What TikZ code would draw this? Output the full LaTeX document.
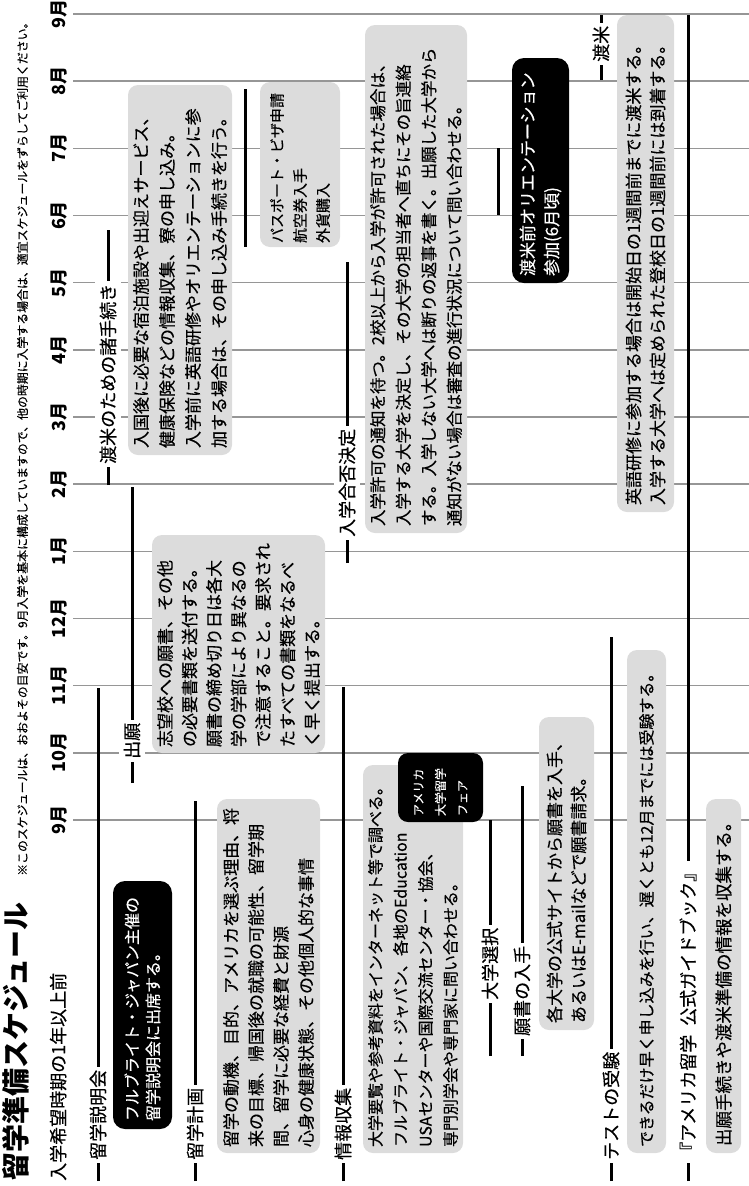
\documentclass[tikz,border=0pt]{standalone}
\usepackage{fontspec}
\setmainfont{Noto Sans CJK JP}[UprightFeatures={FakeBold=0.35}]
\definecolor{boxgray}{RGB}{220,220,220}
\definecolor{gridgray}{RGB}{150,150,150}
\tikzset{
  monthline/.style={draw=gridgray, line width=1.4pt},
  monthlab/.style={rotate=90, font=\bfseries\fontsize{18}{18}\selectfont, inner sep=0pt},
  gbox/.style={fill=boxgray, rounded corners=10pt, rotate=90, inner ysep=0pt, align=left},
  bbox/.style={fill=black, text=white, rounded corners=12pt, rotate=90, inner ysep=0pt, align=left},
  rowlab/.style={rotate=90, anchor=west, fill=white, inner xsep=3pt, inner ysep=5pt, font=\fontsize{18}{18}\selectfont},
  bar/.style={line width=3pt},
}
\begin{document}
\begin{tikzpicture}[x=1pt,y=-1pt]
\useasboundingbox (0,0) rectangle (749,1186);

% month grid
\foreach \m [count=\i from 0] in {9,8,7,6,5,4,3,2,1,12,11,10,9} {
  \pgfmathsetmacro\yy{14+\i*67.17}
  \draw[monthline] (73,\yy) -- (749,\yy);
  \node[monthlab] (m\i) at (59,\yy) {\m 月};
}

% title
\node[rotate=90, anchor=base west, inner sep=0pt, font=\bfseries\fontsize{28}{28}\selectfont] (title) at (27,1181) {留学準備スケジュール};
\node[rotate=90, anchor=base west, inner sep=0pt, font=\fontsize{11.9}{12}\selectfont] (note) at (27,876) {※このスケジュールは、おおよその目安です。9月入学を基本に構成していますので、他の時期に入学する場合は、適宜スケジュールをずらしてご利用ください。};
\node[rotate=90, anchor=base west, inner sep=0pt, font=\fontsize{18}{18}\selectfont] (sub) at (65,1181) {入学希望時期の1年以上前};

% boxes
\node[bbox, inner xsep=8pt, text width=232pt, minimum height=59pt, font=\fontsize{16}{21}\selectfont] (b1) at (142.5,1005) {フルブライト・ジャパン主催の\\留学説明会に出席する。};
\node[gbox, inner xsep=6pt, text width=342pt, minimum height=103pt, font=\fontsize{17}{25}\selectfont] (b2) at (268.5,976) {留学の動機、目的、アメリカを選ぶ理由、将\\来の目標、帰国後の就職の可能性、留学期\\間、留学に必要な経費と財源\\心身の健康状態、その他個人的な事情};
\node[gbox, inner xsep=6pt, text width=376pt, minimum height=100pt, font=\fontsize{16}{25}\selectfont] (b3) at (413,959) {大学要覧や参考資料をインターネット等で調べる。\\フルブライト・ジャパン、各地のEducation\\USAセンターや国際交流センター・協会、\\専門別学会や専門家に問い合わせる。};
\node[bbox, rounded corners=10pt, inner xsep=6pt, text width=57pt, minimum height=85pt, font=\fontsize{12}{22}\selectfont] (b3b) at (440.5,787.5) {アメリカ\\大学留学\\フェア};
\node[gbox, inner xsep=7pt, text width=299pt, minimum height=55pt, font=\fontsize{17}{24}\selectfont] (b5) at (566.5,873.5) {各大学の公式サイトから願書を入手、\\あるいはE-mailなどで願書請求。};
\node[gbox, inner xsep=6pt, text width=491pt, minimum height=39pt, font=\fontsize{16}{24}\selectfont] (b6) at (646.5,901.5) {できるだけ早く申し込みを行い、遅くとも12月までには受験する。};
\node[gbox, inner xsep=7pt, text width=340pt, minimum height=35pt, font=\fontsize{17.5}{24}\selectfont] (b7) at (723.5,976) {出願手続きや渡米準備の情報を収集する。};
\node[gbox, inner xsep=6pt, text width=206pt, minimum height=173pt, font=\fontsize{17}{24.5}\selectfont] (b8) at (238.5,644) {志望校への願書、その他\\の必要書類を送付する。\\願書の締め切り日は各大\\学の学部により異なるの\\で注意すること。要求され\\たすべての書類をなるべ\\く早く提出する。};
\node[gbox, inner xsep=7pt, text width=356pt, minimum height=104pt, font=\fontsize{17}{26}\selectfont] (b9) at (180,270) {入国後に必要な宿泊施設や出迎えサービス、\\健康保険などの情報収集、寮の申し込み。\\入学前に英語研修やオリエンテーションに参\\加する場合は、その申し込み手続きを行う。};
\node[gbox, inner xsep=4pt, text width=157pt, minimum height=80pt, font=\fontsize{15}{23}\selectfont] (b10) at (300,164.5) {パスポート・ビザ申請\\航空券入手\\外貨購入};
\node[gbox, inner xsep=7pt, text width=494pt, minimum height=102pt, font=\fontsize{16.5}{25.5}\selectfont] (b11) at (416,279) {入学許可の通知を待つ。2校以上から入学が許可された場合は、\\入学する大学を決定し、その大学の担当者へ直ちにその旨連絡\\する。入学しない大学へは断りの返事を書く。出願した大学から\\通知がない場合は審査の進行状況について問い合わせる。};
\node[bbox, inner xsep=7pt, text width=211pt, minimum height=57pt, font=\fontsize{17}{24}\selectfont] (b12) at (540.5,170.5) {渡米前オリエンテーション\\参加(6月頃)};
\node[gbox, inner xsep=7pt, text width=483pt, minimum height=57pt, font=\fontsize{17}{24}\selectfont] (b13) at (645.5,263.5) {英語研修に参加する場合は開始日の1週間前までに渡米する。\\入学する大学へは定められた登校日の1週間前には到着する。};

% rows
\coordinate (a0) at (98,1181); \coordinate (a1) at (98,1163); \coordinate (a2) at (98,688);
\node[rowlab] (la) at (a1) {留学説明会};
\draw[bar] (a0) -- (la.west); \draw[bar] (la.east) -- (a2);

\coordinate (c0) at (195,1181); \coordinate (c1) at (195,1163); \coordinate (c2) at (195,801);
\node[rowlab] (lb) at (c1) {留学計画};
\draw[bar] (c0) -- (lb.west); \draw[bar] (lb.east) -- (c2);

\coordinate (d0) at (343,1181); \coordinate (d1) at (343,1163); \coordinate (d2) at (343,687);
\node[rowlab] (lc) at (d1) {情報収集};
\draw[bar] (d0) -- (lc.west); \draw[bar] (lc.east) -- (d2);

\coordinate (e0) at (490,1056); \coordinate (e1) at (490,1003); \coordinate (e2) at (490,820);
\node[rowlab] (ld) at (e1) {大学選択};
\draw[bar] (e0) -- (ld.west); \draw[bar] (ld.east) -- (e2);

\coordinate (f0) at (522,1056); \coordinate (f1) at (522,1039); \coordinate (f2) at (522,786);
\node[rowlab] (le) at (f1) {願書の入手};
\draw[bar] (f0) -- (le.west); \draw[bar] (le.east) -- (f2);

\coordinate (g0) at (611,1181); \coordinate (g1) at (611,1163); \coordinate (g2) at (611,637);
\node[rowlab] (lf) at (g1) {テストの受験};
\draw[bar] (g0) -- (lf.west); \draw[bar] (lf.east) -- (g2);

\coordinate (h0) at (688,1181); \coordinate (h1) at (688,1163); \coordinate (h2) at (688,15);
\node[rowlab] (lg) at (h1) {『アメリカ留学\hspace{0.5em}公式ガイドブック』};
\draw[bar] (h0) -- (lg.west); \draw[bar] (lg.east) -- (h2);

\coordinate (i0) at (132,783); \coordinate (i1) at (132,762); \coordinate (i2) at (132,487);
\node[rowlab] (lh) at (i1) {出願};
\draw[bar] (i0) -- (lh.west); \draw[bar] (lh.east) -- (i2);

\coordinate (j0) at (108,485); \coordinate (j1) at (108,467); \coordinate (j2) at (108,230);
\node[rowlab] (li) at (j1) {渡米のための諸手続き};
\draw[bar] (j0) -- (li.west); \draw[bar] (li.east) -- (j2);

\coordinate (k0) at (347,563); \coordinate (k1) at (347,540); \coordinate (k2) at (347,262);
\node[rowlab] (lj) at (k1) {入学合否決定};
\draw[bar] (k0) -- (lj.west); \draw[bar] (lj.east) -- (k2);

\coordinate (n0) at (601,80); \coordinate (n1) at (601,65); \coordinate (n2) at (601,15);
\node[rowlab] (lk) at (n1) {渡米};
\draw[bar] (n0) -- (lk.west); \draw[bar] (lk.east) -- (n2);

% standalone bars
\coordinate (p0) at (245,89); \coordinate (p1) at (245,247);
\draw[bar] (p0) -- (p1);
\coordinate (q0) at (498,148); \coordinate (q1) at (498,215);
\draw[bar] (q0) -- (q1);
\end{tikzpicture}
\end{document}
